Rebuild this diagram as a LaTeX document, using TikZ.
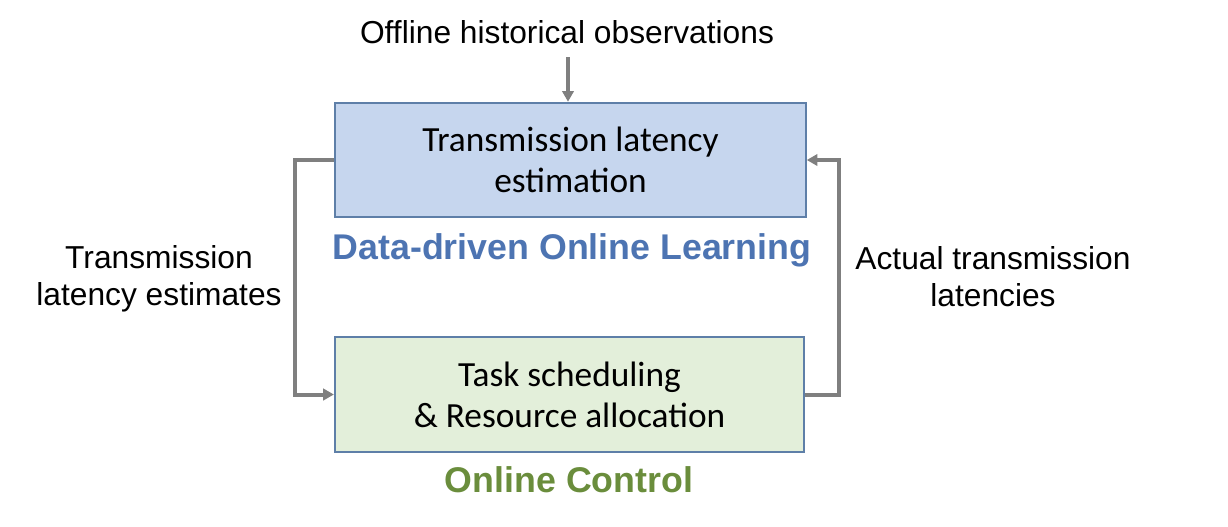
\documentclass[tikz,border=0pt]{standalone}
\usepackage{fontspec}
\setmainfont{Liberation Sans}
\newfontfamily\boxfont{Carlito}
\usepackage{tikz}
\usetikzlibrary{
	positioning,
	arrows.meta
}
\definecolor{boxblue}{HTML}{C6D6EE}
\definecolor{boxgreen}{HTML}{E3EFDA}
\definecolor{edgeblue}{HTML}{5E7FA8}
\definecolor{titleblue}{HTML}{4D74B2}
\definecolor{titlegreen}{HTML}{6A8D3C}
\definecolor{linkgray}{HTML}{7F7F7F}
\tikzset{
	stage/.style={draw=edgeblue,line width=1.4pt,minimum width=353pt,minimum height=86pt,
		align=center,font=\boxfont\fontsize{26.5}{30.75}\selectfont},
	caption/.style={align=center,font=\fontsize{23.8}{27.75}\selectfont},
	title/.style={anchor=base,font=\bfseries\fontsize{26.8}{30}\selectfont},
	link/.style={draw=linkgray,line width=3pt,-{Triangle[length=8pt,width=8.5pt]}}
}

\begin{document}
\begin{tikzpicture}[x=0.75pt,y=-0.75pt]
		\useasboundingbox (0,0) rectangle (1228,526);
		\draw
			node [stage,fill=boxblue]  (est)   at (570.5,160)   {Transmission latency\\estimation}
			node [stage,fill=boxgreen,minimum width=352pt] (ctrl) at (569.5,394.5) {Task scheduling\\\& Resource allocation}

			node [caption,anchor=base] (obs)  at (567,43)  {Offline historical observations}
			node [caption] (estimates) at (159,279) {Transmission\\latency estimates}
			node [caption] (actual)    at (993,277) {Actual transmission\\latencies}

			node [title,text=titleblue]  (learn)  at (572,259) {Data-driven Online Learning}
			node [title,text=titlegreen] (online) at (569,492) {Online Control}
		;
		\coordinate (lx) at (295,0);
		\coordinate (rx) at (839,0);
		\coordinate (obsend) at (568,57);

		\draw [link] (obsend) -- (obsend |- est.north);
		\draw [link] (est.west) -- (lx |- est.west) -- (lx |- ctrl.west) -- (ctrl.west);
		\draw [link] (ctrl.east) -- (rx |- ctrl.east) -- (rx |- est.east) -- (est.east);
\end{tikzpicture}
\end{document}
